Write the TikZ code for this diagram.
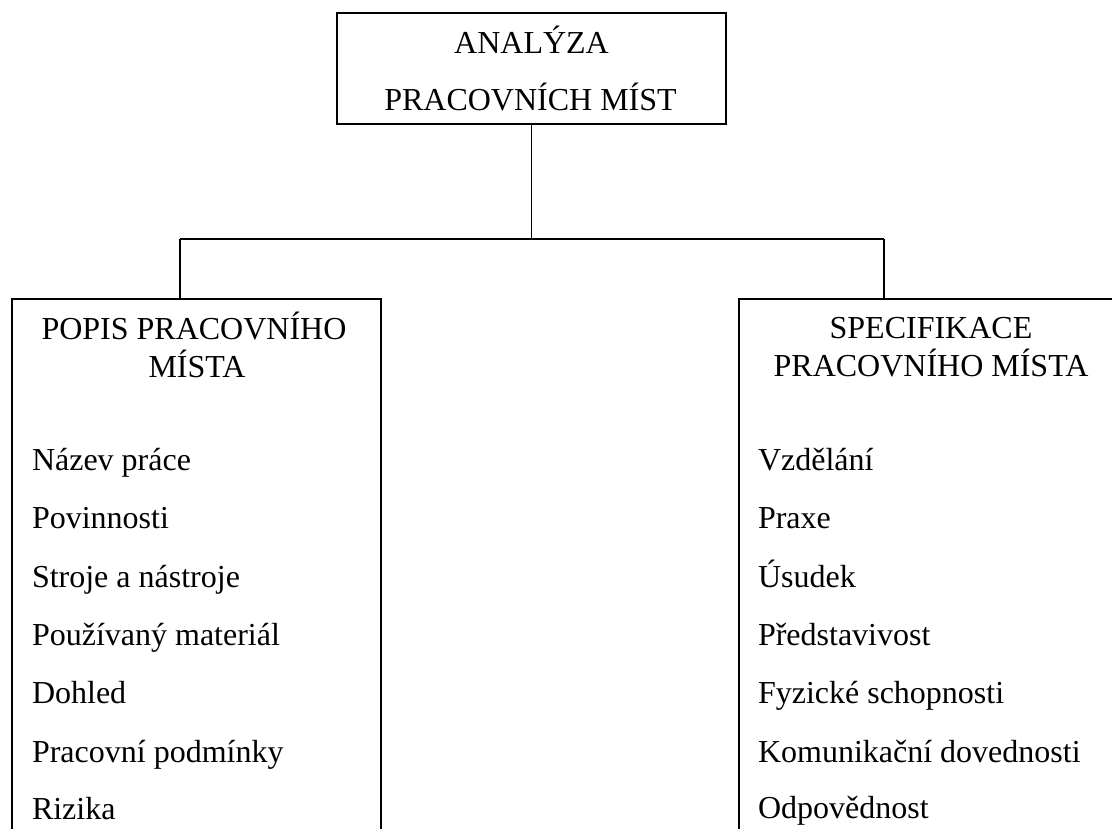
\documentclass[tikz,border=0pt]{standalone}
\usepackage{fontspec}
\setmainfont{Liberation Serif}
\begin{document}
\begin{tikzpicture}[x=0.75pt,y=-0.75pt,
  boxnode/.style={draw=black,line width=0.9pt,rectangle,inner sep=0pt,outer sep=0pt},
  txt/.style={inner sep=0pt,outer sep=0pt,font=\fontsize{24pt}{28pt}\selectfont},
  head/.style={txt,anchor=base},
  item/.style={txt,anchor=base west},
  conn/.style={draw=black,line width=0.9pt}]
\useasboundingbox (0,0) rectangle (1112,828);
\clip (0,0) rectangle (1112,828);
\fill[white] (0,0) rectangle (1112,828);
% boxes
\node[boxnode,minimum width=291.75pt,minimum height=83.25pt] (top) at (531.5,68.5) {};
\node[boxnode,minimum width=276.75pt,minimum height=420.75pt] (lbox) at (196.5,579.5) {};
\node[boxnode,minimum width=293.25pt,minimum height=420.75pt] (rbox) at (934.5,579.5) {};
% connectors
\coordinate (jl) at (180,239);
\coordinate (jr) at (884,239);
\draw[conn] (top.south) -- (top.south |- jl);
\draw[conn] (jl) -- (jr);
\draw[conn] (jl) -- (jl |- lbox.north);
\draw[conn] (jr) -- (jr |- rbox.north);
% top texts
\node[head] (t1) at (531.5,53) {ANALÝZA};
\node[head] (t2) at (530.5,110) {PRACOVNÍCH MÍST};
% left header
\node[head] (l1) at (194,339) {POPIS PRACOVNÍHO};
\node[head] (l2) at (197,377) {MÍSTA};
% right header
\node[head] (r1) at (931,338) {SPECIFIKACE};
\node[head] (r2) at (931,376) {PRACOVNÍHO MÍSTA};
% left items
\node[item] (li1) at (32,470) {Název práce};
\node[item] (li2) at (32,528.5) {Povinnosti};
\node[item] (li3) at (32,587) {Stroje a nástroje};
\node[item] (li4) at (32,645) {Používaný materiál};
\node[item] (li5) at (32,703) {Dohled};
\node[item] (li6) at (32,762) {Pracovní podmínky};
\node[item] (li7) at (32,819) {Rizika};
% right items
\node[item] (ri1) at (758,470) {Vzdělání};
\node[item] (ri2) at (758,528.5) {Praxe};
\node[item] (ri3) at (758,587) {Úsudek};
\node[item] (ri4) at (758,645) {Představivost};
\node[item] (ri5) at (758,703) {Fyzické schopnosti};
\node[item] (ri6) at (758,762) {Komunikační dovednosti};
\node[item] (ri7) at (758,818) {Odpovědnost};
\end{tikzpicture}
\end{document}
